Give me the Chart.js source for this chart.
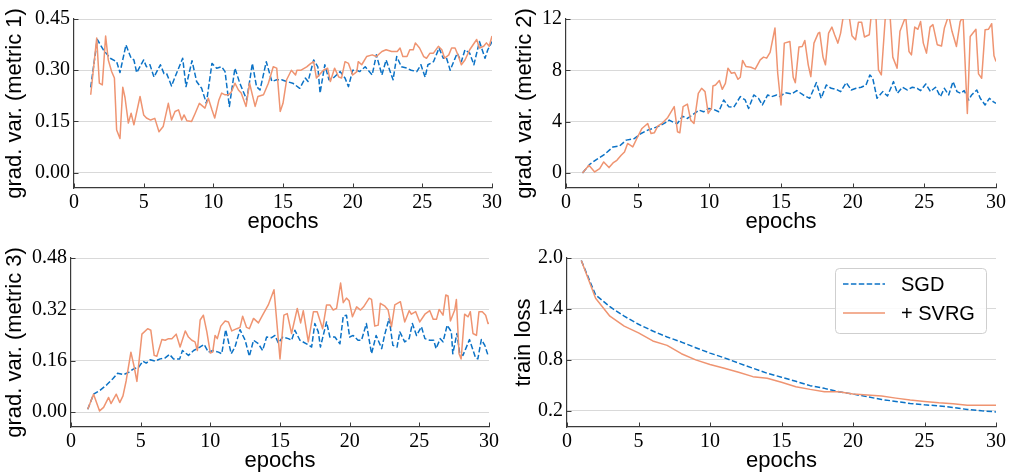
<!DOCTYPE html>
<html lang="en">
<head>
<meta charset="UTF-8">
<title>Gradient variance and train loss</title>
<script src="https://cdn.jsdelivr.net/npm/chart.js"></script>
<style>
  body { margin: 0; background: #fff; }
  canvas { position: absolute; }
</style>
</head>
<body>
<canvas id="metric1" width="505" height="237" style="left:0;top:0"></canvas>
<canvas id="metric2" width="504" height="237" style="left:505px;top:0"></canvas>
<canvas id="metric3" width="505" height="237" style="left:0;top:239px"></canvas>
<canvas id="loss" width="504" height="237" style="left:505px;top:239px"></canvas>

<script>
// x ticks shared by every panel
const epochTicks = [0, 5, 10, 15, 20, 25, 30];

// gradient variance, [epoch, value]
const metric1Sgd = [[1.2,0.25],[1.67,0.39],[2.1,0.36],[2.6,0.335],[3.06,0.325],[3.3,0.293],[3.73,0.374],[4.1,0.335],[4.3,0.33],[4.5,0.293],[5.0,0.33],[5.2,0.31],[5.45,0.316],[5.74,0.28],[6.2,0.316],[6.46,0.29],[6.65,0.29],[7.0,0.254],[7.25,0.28],[7.8,0.335],[8.04,0.252],[8.47,0.328],[8.8,0.267],[9.16,0.247],[9.5,0.203],[9.9,0.32],[10.24,0.306],[10.6,0.31],[10.84,0.296],[11.15,0.194],[11.55,0.306],[11.9,0.262],[12.4,0.213],[12.8,0.32],[13.1,0.252],[13.35,0.242],[13.8,0.325],[14.2,0.267],[14.55,0.272],[14.9,0.272],[15.26,0.267],[15.7,0.262],[16.2,0.247],[16.6,0.277],[16.8,0.267],[17.2,0.33],[17.5,0.31],[17.66,0.233],[18.0,0.316],[18.3,0.272],[18.6,0.277],[19.1,0.296],[19.45,0.277],[19.7,0.252],[20.0,0.30],[20.3,0.30],[20.5,0.296],[20.9,0.31],[21.4,0.286],[21.7,0.345],[22.1,0.286],[22.4,0.33],[22.9,0.272],[23.16,0.34],[23.5,0.31],[23.9,0.306],[24.2,0.30],[24.6,0.296],[24.9,0.316],[25.2,0.28],[25.4,0.316],[25.8,0.325],[26.2,0.365],[26.5,0.335],[26.7,0.34],[27.0,0.30],[27.5,0.35],[27.8,0.325],[28.06,0.36],[28.4,0.35],[28.7,0.316],[29.1,0.384],[29.5,0.335],[29.7,0.36],[30.0,0.384]];
const metric1Svrg = [[1.2,0.228],[1.63,0.394],[1.82,0.262],[2.03,0.257],[2.27,0.40],[2.46,0.33],[2.7,0.296],[2.9,0.277],[3.06,0.125],[3.3,0.10],[3.5,0.25],[3.66,0.22],[3.9,0.145],[4.1,0.174],[4.3,0.14],[4.74,0.223],[5.0,0.169],[5.2,0.16],[5.5,0.154],[5.8,0.159],[6.1,0.12],[6.4,0.135],[6.77,0.203],[7.0,0.154],[7.25,0.179],[7.5,0.184],[7.73,0.154],[7.9,0.169],[8.1,0.152],[8.44,0.15],[8.7,0.174],[9.0,0.203],[9.4,0.189],[9.64,0.218],[9.9,0.184],[10.1,0.16],[10.4,0.213],[10.6,0.233],[10.84,0.228],[11.1,0.228],[11.3,0.237],[11.55,0.262],[11.8,0.242],[12.0,0.233],[12.35,0.194],[12.6,0.262],[13.0,0.194],[13.2,0.223],[13.6,0.228],[13.95,0.262],[14.3,0.31],[14.55,0.306],[14.8,0.179],[15.0,0.203],[15.26,0.272],[15.6,0.30],[15.9,0.286],[16.0,0.30],[16.3,0.30],[16.7,0.31],[17.0,0.32],[17.2,0.325],[17.4,0.277],[17.9,0.30],[18.2,0.306],[18.4,0.267],[18.7,0.306],[19.0,0.28],[19.2,0.277],[19.45,0.325],[19.7,0.32],[20.0,0.286],[20.3,0.296],[20.4,0.325],[20.65,0.316],[21.0,0.34],[21.4,0.345],[21.7,0.34],[22.1,0.355],[22.4,0.36],[22.8,0.355],[23.2,0.355],[23.4,0.365],[23.6,0.34],[23.9,0.34],[24.1,0.36],[24.35,0.36],[24.5,0.38],[24.8,0.365],[25.1,0.34],[25.3,0.335],[25.55,0.35],[25.8,0.35],[26.15,0.37],[26.4,0.36],[26.6,0.335],[26.9,0.345],[27.1,0.365],[27.35,0.365],[27.6,0.34],[27.8,0.316],[28.06,0.33],[28.4,0.36],[28.9,0.39],[29.1,0.365],[29.4,0.37],[29.6,0.38],[29.8,0.37],[30.0,0.40]];

const metric2Sgd = [[1.15,0],[1.66,0.68],[2.12,1.04],[2.7,1.46],[3.28,2.03],[3.74,2.11],[4.2,2.56],[4.78,2.69],[5.24,3.08],[5.7,3.34],[6.05,3.47],[6.5,3.65],[6.85,3.86],[7.2,4.12],[7.55,3.91],[7.78,3.86],[8.12,4.43],[8.47,4.25],[8.8,4.51],[9.28,4.9],[9.6,4.77],[9.97,5.03],[10.3,4.96],[10.66,4.77],[11.0,5.69],[11.35,5.17],[11.7,5.11],[12.16,5.95],[12.5,5.69],[12.74,5.03],[13.1,6.08],[13.43,5.82],[13.7,5.3],[14.07,6.08],[14.35,5.95],[14.7,6.08],[14.93,5.95],[15.28,6.26],[15.74,6.16],[16.1,6.42],[16.55,6.08],[17.0,5.82],[17.47,7.04],[17.8,5.82],[18.16,6.86],[18.5,6.6],[18.86,6.52],[19.16,6.34],[19.55,7.04],[19.9,6.47],[20.24,6.6],[20.6,6.68],[20.93,6.86],[21.2,7.64],[21.4,7.38],[21.7,5.82],[22.1,6.34],[22.43,6.0],[22.85,7.12],[23.12,6.21],[23.47,6.68],[23.8,6.47],[24.16,6.68],[24.5,6.6],[24.74,6.42],[25.1,6.94],[25.43,6.34],[25.78,6.68],[26.12,5.95],[26.4,6.6],[26.7,6.08],[27.0,7.12],[27.28,6.34],[27.55,6.21],[27.78,6.42],[28.1,5.69],[28.3,6.08],[28.66,6.47],[28.9,5.82],[29.24,5.3],[29.54,5.82],[29.8,5.56],[30.0,5.43]];
const metric2Svrg = [[1.15,0],[1.6,0.6],[2.0,0.08],[2.35,0.34],[2.63,0.86],[3.0,0.42],[3.28,0.78],[3.55,0.99],[3.85,1.38],[4.08,1.64],[4.3,2.3],[4.66,2.03],[5.0,2.82],[5.3,3.47],[5.7,3.86],[5.93,3.08],[6.16,3.13],[6.4,3.65],[6.74,3.91],[7.1,4.33],[7.55,5.17],[7.78,3.21],[7.94,3.13],[8.17,5.17],[8.47,5.37],[8.7,4.12],[8.93,3.86],[9.23,6.21],[9.46,6.6],[9.7,6.34],[9.92,4.64],[10.15,5.03],[10.25,6.78],[10.43,6.86],[10.7,7.2],[10.9,6.52],[11.12,6.99],[11.3,8.17],[11.54,7.77],[11.77,7.83],[12.0,7.3],[12.16,7.46],[12.32,8.77],[12.55,8.3],[12.9,8.24],[13.2,8.09],[13.55,8.82],[13.78,9.03],[14.0,8.95],[14.24,9.4],[14.58,11.3],[14.77,7.77],[15.0,5.3],[15.23,10.12],[15.62,10.25],[15.85,7.46],[16.0,7.04],[16.25,9.81],[16.48,9.86],[16.66,10.33],[16.9,8.43],[17.08,7.51],[17.3,10.12],[17.6,10.9],[17.7,10.96],[17.93,9.03],[18.1,8.43],[18.32,10.9],[18.55,11.37],[18.74,10.77],[18.97,10.12],[19.16,10.9],[19.4,12.6],[19.66,13.0],[19.95,10.7],[20.2,10.38],[20.4,11.74],[20.63,11.74],[20.82,10.6],[21.16,10.77],[21.4,13.5],[21.6,12.8],[21.8,8.04],[22.0,7.64],[22.3,12.5],[22.6,12.4],[22.8,9.03],[23.1,8.17],[23.3,11.04],[23.7,12.2],[23.93,9.47],[24.1,9.2],[24.33,11.37],[24.55,11.2],[24.74,11.8],[24.93,10.12],[25.15,9.34],[25.4,11.37],[25.6,11.56],[25.9,10.0],[26.2,9.9],[26.4,11.3],[26.7,12.3],[26.93,11.04],[27.24,9.86],[27.5,11.8],[27.7,12.2],[28.0,4.64],[28.2,10.64],[28.6,11.2],[28.78,7.72],[29.0,7.38],[29.24,11.17],[29.47,11.2],[29.7,11.63],[29.86,9.13],[30.0,8.69]];

const metric3Sgd = [[1.2,0.009],[1.62,0.056],[2.1,0.069],[2.58,0.086],[3.0,0.104],[3.34,0.121],[3.77,0.117],[4.13,0.124],[4.5,0.135],[4.85,0.14],[5.16,0.159],[5.4,0.153],[5.68,0.163],[6.04,0.159],[6.4,0.166],[6.76,0.169],[7.07,0.18],[7.36,0.166],[7.8,0.166],[8.0,0.192],[8.43,0.177],[8.8,0.192],[9.27,0.203],[9.55,0.211],[9.86,0.187],[10.2,0.192],[10.58,0.187],[10.82,0.182],[11.1,0.257],[11.5,0.182],[11.77,0.203],[12.13,0.257],[12.5,0.224],[12.8,0.174],[13.1,0.224],[13.45,0.213],[13.75,0.192],[14.04,0.234],[14.4,0.232],[14.64,0.239],[14.88,0.215],[15.2,0.234],[15.6,0.229],[15.83,0.224],[16.07,0.255],[16.43,0.224],[16.9,0.213],[17.27,0.203],[17.5,0.276],[17.75,0.25],[17.9,0.203],[18.34,0.281],[18.58,0.234],[18.94,0.234],[19.3,0.213],[19.54,0.299],[19.77,0.302],[20.0,0.234],[20.25,0.239],[20.6,0.224],[20.85,0.224],[21.2,0.276],[21.57,0.182],[21.9,0.239],[22.3,0.198],[22.5,0.239],[22.83,0.292],[23.1,0.208],[23.4,0.203],[23.6,0.25],[23.95,0.219],[24.27,0.229],[24.5,0.276],[24.8,0.239],[25.15,0.266],[25.4,0.229],[25.75,0.224],[26.03,0.224],[26.2,0.198],[26.5,0.229],[26.7,0.219],[27.0,0.271],[27.3,0.25],[27.4,0.182],[27.7,0.245],[27.9,0.182],[28.13,0.177],[28.6,0.226],[29.04,0.169],[29.2,0.166],[29.45,0.226],[29.7,0.208],[29.93,0.177],[30.0,0.177]];
const metric3Svrg = [[1.2,0.009],[1.62,0.056],[2.05,0.004],[2.34,0.015],[2.7,0.046],[2.87,0.027],[3.25,0.056],[3.5,0.03],[3.73,0.051],[3.96,0.098],[4.3,0.187],[4.54,0.14],[4.73,0.096],[5.09,0.243],[5.5,0.26],[5.73,0.255],[5.97,0.177],[6.16,0.174],[6.52,0.226],[6.76,0.224],[7.0,0.229],[7.24,0.229],[7.55,0.243],[7.83,0.203],[8.2,0.253],[8.43,0.234],[8.67,0.224],[8.9,0.219],[9.07,0.192],[9.27,0.287],[9.5,0.302],[9.75,0.25],[10.0,0.184],[10.17,0.187],[10.34,0.239],[10.5,0.229],[10.75,0.268],[11.06,0.284],[11.3,0.281],[11.54,0.253],[11.9,0.26],[12.13,0.264],[12.32,0.299],[12.6,0.264],[12.8,0.26],[13.1,0.292],[13.45,0.278],[13.75,0.302],[14.16,0.334],[14.57,0.381],[15.0,0.166],[15.28,0.302],[15.52,0.307],[15.83,0.245],[16.24,0.323],[16.48,0.278],[16.67,0.316],[17.03,0.219],[17.4,0.313],[17.67,0.313],[18.06,0.26],[18.34,0.334],[18.58,0.334],[18.82,0.318],[19.06,0.323],[19.35,0.402],[19.54,0.341],[19.77,0.355],[19.96,0.347],[20.2,0.297],[20.5,0.328],[20.78,0.318],[21.0,0.328],[21.4,0.355],[21.57,0.351],[21.8,0.268],[22.05,0.271],[22.2,0.339],[22.53,0.33],[22.76,0.318],[23.0,0.266],[23.24,0.334],[23.64,0.344],[23.95,0.281],[24.27,0.316],[24.43,0.305],[24.74,0.313],[25.03,0.281],[25.4,0.305],[25.75,0.316],[26.0,0.289],[26.23,0.289],[26.42,0.32],[26.7,0.302],[26.9,0.365],[27.06,0.362],[27.23,0.284],[27.54,0.318],[27.66,0.351],[27.85,0.182],[28.0,0.166],[28.25,0.305],[28.5,0.297],[28.66,0.313],[28.85,0.245],[29.1,0.239],[29.28,0.313],[29.52,0.313],[29.76,0.302],[29.93,0.276],[30.0,0.278]];

// train loss, one value per epoch
const lossEpochs = [1,2,3,4,5,6,7,8,9,10,11,12,13,14,15,16,17,18,19,20,21,22,23,24,25,26,27,28,29,30];
const lossSgd = [1.97,1.565,1.426,1.315,1.22,1.14,1.07,1.01,0.944,0.88,0.825,0.762,0.702,0.643,0.596,0.548,0.497,0.465,0.425,0.398,0.366,0.334,0.311,0.287,0.271,0.259,0.24,0.216,0.2,0.188];
const lossSvrg = [1.97,1.525,1.315,1.197,1.118,1.023,0.971,0.873,0.80,0.746,0.702,0.655,0.603,0.584,0.536,0.485,0.453,0.425,0.425,0.398,0.386,0.374,0.35,0.327,0.311,0.295,0.283,0.267,0.267,0.267];

// y ticks per panel
const metric1Ticks = [0, 0.15, 0.30, 0.45];
const metric2Ticks = [0, 4, 8, 12];
const metric3Ticks = [0, 0.16, 0.32, 0.48];
const lossTicks = [0.2, 0.8, 1.4, 2.0];

const BLUE = '#0b72c6';
const ORANGE = '#ef9471';
const SPINE = '#3a3a3a';
const GRID = '#d9d9d9';
const SERIF = "'Liberation Serif', 'Times New Roman', serif";
const SANS = "'Liberation Sans', Arial, sans-serif";

const toPoints = pairs => pairs.map(([x, y]) => ({ x, y }));

// matplotlib-style ticks pointing into the plot
const inwardTicks = {
  id: 'inwardTicks',
  afterDatasetsDraw(chart) {
    const { ctx, chartArea, scales: { x, y } } = chart;
    ctx.save();
    ctx.strokeStyle = SPINE;
    ctx.lineWidth = 1;
    ctx.beginPath();
    x.ticks.forEach(t => {
      const px = Math.round(x.getPixelForValue(t.value)) + 0.5;
      ctx.moveTo(px, chartArea.bottom);
      ctx.lineTo(px, chartArea.bottom - 4.5);
    });
    y.ticks.forEach(t => {
      const py = Math.round(y.getPixelForValue(t.value)) + 0.5;
      ctx.moveTo(chartArea.left, py);
      ctx.lineTo(chartArea.left + 4.5, py);
    });
    ctx.stroke();
    ctx.restore();
  }
};

// boxed legend in the upper right corner of the plot
const boxLegend = {
  id: 'boxLegend',
  afterDraw(chart) {
    const { ctx, chartArea } = chart;
    const w = 151, h = 65;
    const left = chartArea.right - 10 - w;
    const top = chartArea.top + 10;
    ctx.save();
    ctx.beginPath();
    ctx.roundRect(left + 0.5, top + 0.5, w, h, 4);
    ctx.fillStyle = 'rgba(255,255,255,0.85)';
    ctx.fill();
    ctx.strokeStyle = '#cfcfcf';
    ctx.lineWidth = 1;
    ctx.stroke();
    ctx.font = '20px ' + SANS;
    ctx.textBaseline = 'middle';
    ctx.fillStyle = '#000';
    chart.data.datasets.forEach((ds, i) => {
      const cy = top + 16 + i * 29;
      ctx.beginPath();
      ctx.setLineDash(ds.borderDash || []);
      ctx.strokeStyle = ds.borderColor;
      ctx.lineWidth = ds.borderWidth;
      ctx.moveTo(left + 8, cy);
      ctx.lineTo(left + 50, cy);
      ctx.stroke();
      ctx.setLineDash([]);
      ctx.fillText(ds.label, left + 66, cy + 1);
    });
    ctx.restore();
  }
};

function drawPanel(id, p) {
  new Chart(document.getElementById(id), {
    type: 'line',
    data: {
      datasets: [
        { label: 'SGD', data: p.sgd, borderColor: BLUE, borderWidth: 1.5, borderDash: [5.5, 2.4], order: 1 },
        { label: '+ SVRG', data: p.svrg, borderColor: ORANGE, borderWidth: 1.5, order: 0 }
      ]
    },
    options: {
      responsive: false,
      animation: false,
      layout: { padding: { top: 19, right: p.padRight, bottom: 0, left: 0 } },
      elements: {
        point: { radius: 0 },
        line: { tension: 0, borderJoinStyle: 'round', fill: false }
      },
      plugins: { legend: { display: false }, tooltip: { enabled: false } },
      scales: {
        x: {
          type: 'linear',
          min: 0,
          max: 30,
          afterBuildTicks: s => { s.ticks = epochTicks.map(v => ({ value: v })); },
          afterFit: s => { s.height = 49; },
          grid: { display: false, drawTicks: false },
          border: { color: SPINE, width: 1.2 },
          ticks: { padding: 3, color: '#000', autoSkip: false, maxRotation: 0, font: { family: SERIF, size: 20 } },
          title: { display: true, text: 'epochs', color: '#000', padding: { top: 0, bottom: 2 }, font: { family: SANS, size: 22 } }
        },
        y: {
          type: 'linear',
          min: p.yMin,
          max: p.yMax,
          afterBuildTicks: s => { s.ticks = p.yTicks.map(v => ({ value: v })); },
          afterFit: s => { s.width = p.axisWidth; },
          grid: { color: GRID, lineWidth: 1, drawTicks: false },
          border: { color: SPINE, width: 1.2 },
          ticks: { padding: 4, color: '#000', font: { family: SERIF, size: 20 }, callback: v => v.toFixed(p.digits) },
          title: { display: true, text: p.yTitle, color: '#000', padding: { top: p.titlePad, bottom: 0 }, font: { family: SANS, size: 22 } }
        }
      }
    },
    plugins: p.legend ? [inwardTicks, boxLegend] : [inwardTicks]
  });
}

drawPanel('metric1', {
  sgd: toPoints(metric1Sgd), svrg: toPoints(metric1Svrg),
  yMin: -0.045, yMax: 0.45, yTicks: metric1Ticks, digits: 2,
  yTitle: 'grad. var. (metric 1)', axisWidth: 74, padRight: 13, titlePad: 2
});
drawPanel('metric2', {
  sgd: toPoints(metric2Sgd), svrg: toPoints(metric2Svrg),
  yMin: -1.17, yMax: 12, yTicks: metric2Ticks, digits: 0,
  yTitle: 'grad. var. (metric 2)', axisWidth: 61, padRight: 10, titlePad: 7
});
drawPanel('metric3', {
  sgd: toPoints(metric3Sgd), svrg: toPoints(metric3Svrg),
  yMin: -0.046, yMax: 0.48, yTicks: metric3Ticks, digits: 2,
  yTitle: 'grad. var. (metric 3)', axisWidth: 71, padRight: 16, titlePad: 2
});
drawPanel('loss', {
  sgd: lossEpochs.map((e, i) => ({ x: e, y: lossSgd[i] })),
  svrg: lossEpochs.map((e, i) => ({ x: e, y: lossSvrg[i] })),
  yMin: 0.01, yMax: 2.0, yTicks: lossTicks, digits: 1,
  yTitle: 'train loss', axisWidth: 62, padRight: 13, titlePad: 6, legend: true
});
</script>
</body>
</html>
